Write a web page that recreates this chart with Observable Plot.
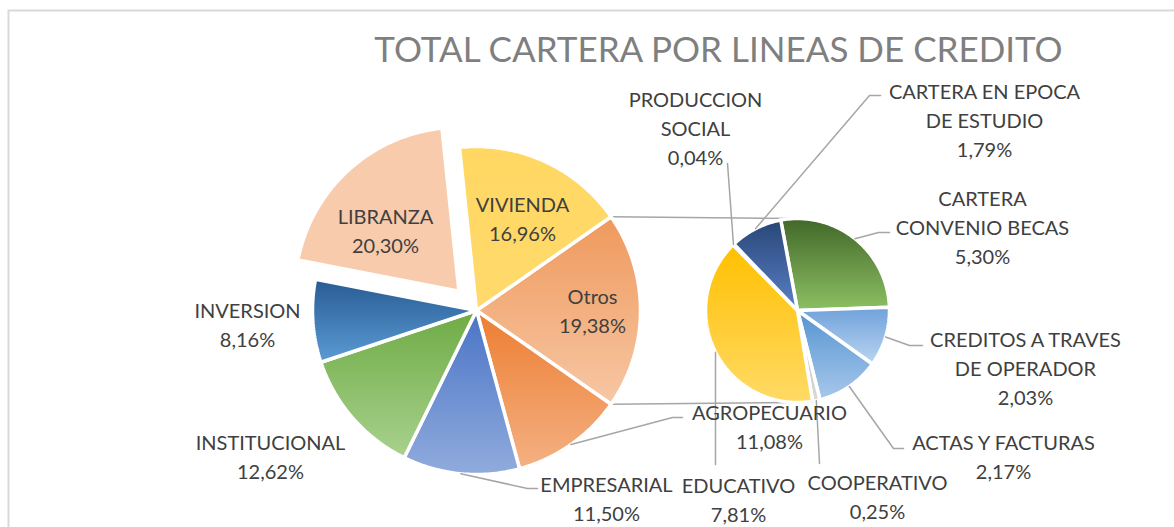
<!DOCTYPE html>
<html>
<head>
<meta charset="utf-8">
<script src="https://cdn.jsdelivr.net/npm/d3@7"></script>
<script src="https://cdn.jsdelivr.net/npm/@observablehq/plot@0.6"></script>
<style>
  body { margin: 0; background: #fff; }
  #chart svg { display: block; }
</style>
</head>
<body>
<div id="chart"></div>
<script>
// ---------------- DATA ----------------
const chartTitle = "TOTAL CARTERA POR LINEAS DE CREDITO";
const mainCategories = ["Otros", "AGROPECUARIO", "EMPRESARIAL", "INSTITUCIONAL", "INVERSION", "LIBRANZA", "VIVIENDA"];
const mainValues = [19.38, 11.08, 11.50, 12.62, 8.16, 20.30, 16.96];
const otrosCategories = ["CARTERA CONVENIO BECAS", "CREDITOS A TRAVES DE OPERADOR", "ACTAS Y FACTURAS", "COOPERATIVO", "EDUCATIVO", "PRODUCCION SOCIAL", "CARTERA EN EPOCA DE ESTUDIO"];
const otrosValues = [5.30, 2.03, 2.17, 0.25, 7.81, 0.04, 1.79];
const aggregateCategory = "Otros";
const explodedCategory = "LIBRANZA";

// ---------------- LAYOUT / STYLE ----------------
const W = 1174, H = 527;
const mainPie = {cx: 476, cy: 310, r: 164, explode: 26};
const subPie = {cx: 797, cy: 310, r: 92, startDeg: -100.5};
const titleLayout = {x: 718, y: 50, size: 35};
const gradients = {
  "Otros": ["#EF995C", "#F7C7A4"],
  "AGROPECUARIO": ["#ED7D31", "#F4B183"],
  "EMPRESARIAL": ["#4A74C6", "#90ABDD"],
  "INSTITUCIONAL": ["#6EAB45", "#A9D18E"],
  "INVERSION": ["#285C93", "#5B9BD5"],
  "LIBRANZA": ["#F8CBAD", "#F8CBAD"],
  "VIVIENDA": ["#FFD762", "#FFDA6C"],
  "CARTERA CONVENIO BECAS": ["#426829", "#8CC063"],
  "CREDITOS A TRAVES DE OPERADOR": ["#6FA1DA", "#BAD5F1"],
  "ACTAS Y FACTURAS": ["#5594D2", "#A7C8EA"],
  "COOPERATIVO": ["#B4B4B4", "#DADADA"],
  "EDUCATIVO": ["#FFC000", "#FFDA66"],
  "PRODUCCION SOCIAL": ["#7F7F7F", "#A5A5A5"],
  "CARTERA EN EPOCA DE ESTUDIO": ["#284677", "#5A80C7"]
};
const labelLayout = {
  "Otros": {x: 592, y: 309},
  "AGROPECUARIO": {x: 769, y: 425, leader: [[672, 417], [682, 417]]},
  "EMPRESARIAL": {x: 606, y: 497, leader: [[527, 488], [537, 488]]},
  "INSTITUCIONAL": {x: 270, y: 455},
  "INVERSION": {x: 247, y: 323},
  "LIBRANZA": {x: 385, y: 229},
  "VIVIENDA": {x: 522, y: 217},
  "CARTERA CONVENIO BECAS": {x: 982, y: 225, wrap: [1, 2], leader: [[878, 232], [889, 232]]},
  "CREDITOS A TRAVES DE OPERADOR": {x: 1025, y: 366, wrap: [3, 2], leader: [[909, 345], [922, 345]]},
  "ACTAS Y FACTURAS": {x: 1003, y: 455, leader: [[893, 448], [903, 448]]},
  "COOPERATIVO": {x: 877, y: 495, leader: [[819, 463]]},
  "EDUCATIVO": {x: 738, y: 498, leader: [[715, 464]]},
  "PRODUCCION SOCIAL": {x: 695, y: 126, wrap: [1, 1], leader: [[727, 163]]},
  "CARTERA EN EPOCA DE ESTUDIO": {x: 984, y: 118, wrap: [3, 2], leader: [[869, 95], [880, 95]]}
};

// ---------------- GEOMETRY ----------------
const rad = d => d * Math.PI / 180;
function makeSlices(cats, vals, startDeg, pie) {
  const total = d3.sum(vals);
  let a = startDeg;
  return cats.map((c, i) => {
    const span = 360 * vals[i] / total;
    const s = {cat: c, value: vals[i], a0: a, a1: a + span, cx: pie.cx, cy: pie.cy, r: pie.r};
    a += span;
    return s;
  });
}
const mainTotal = d3.sum(mainValues);
const aggIndex = mainCategories.indexOf(aggregateCategory);
const mainStart = -360 * mainValues[aggIndex] / mainTotal / 2;
const mainSlices = makeSlices(mainCategories, mainValues, mainStart, mainPie);
mainSlices.forEach(s => {
  if (s.cat === explodedCategory) {
    const m = rad((s.a0 + s.a1) / 2);
    s.cx += mainPie.explode * Math.cos(m);
    s.cy += mainPie.explode * Math.sin(m);
  }
});
const subSlices = makeSlices(otrosCategories, otrosValues, subPie.startDeg, subPie);
const allSlices = [...mainSlices, ...subSlices];

function polygon(s) {
  const pts = [{x: s.cx, y: s.cy}];
  const n = Math.max(2, Math.ceil((s.a1 - s.a0) / 1));
  for (let k = 0; k <= n; k++) {
    const a = rad(s.a0 + (s.a1 - s.a0) * k / n);
    pts.push({x: s.cx + s.r * Math.cos(a), y: s.cy + s.r * Math.sin(a)});
  }
  pts.push({x: s.cx, y: s.cy});
  return pts;
}
const edgePoint = (s, deg, r = s.r) => ({x: s.cx + r * Math.cos(rad(deg)), y: s.cy + r * Math.sin(rad(deg))});

// connectors between the aggregate slice and the secondary pie
const agg = mainSlices[aggIndex];
const connectors = [
  {p1: edgePoint(agg, agg.a0), p2: {x: subPie.cx, y: subPie.cy - subPie.r}},
  {p1: edgePoint(agg, agg.a1), p2: {x: subPie.cx, y: subPie.cy + subPie.r}}
];

// leader lines
const leaderRows = [];
allSlices.forEach(s => {
  const L = labelLayout[s.cat];
  if (!L || !L.leader) return;
  const start = edgePoint(s, (s.a0 + s.a1) / 2);
  leaderRows.push({id: s.cat, x: start.x, y: start.y});
  L.leader.forEach(([x, y]) => leaderRows.push({id: s.cat, x, y}));
});

// label texts
const fmt = v => v.toFixed(2).replace(".", ",") + "%";
function wrapName(name, wrap) {
  if (!wrap) return [name];
  const words = name.split(" ");
  const lines = [];
  let i = 0;
  wrap.forEach(n => { lines.push(words.slice(i, i + n).join(" ")); i += n; });
  return lines;
}
const labelRows = allSlices.map(s => {
  const L = labelLayout[s.cat];
  return {x: L.x, y: L.y, text: [...wrapName(s.cat, L.wrap), fmt(s.value)].join("\n")};
});

// ---------------- PLOT ----------------
const sliceMarks = allSlices.map((s, i) =>
  Plot.line(polygon(s), {
    x: "x", y: "y", curve: "linear",
    fill: `url(#grad${i})`, stroke: "white", strokeWidth: 3.5, strokeLinejoin: "miter"
  })
);

const svg = Plot.plot({
  width: W, height: H,
  margin: 0,
  x: {domain: [0, W], range: [0, W], axis: null},
  y: {domain: [0, H], range: [0, H], axis: null},
  style: {background: "transparent", overflow: "visible"},
  marks: [
    Plot.frame({stroke: "#D9D9D9", strokeWidth: 2, insetLeft: 8, insetTop: 10, insetRight: -20, insetBottom: -20}),
    Plot.link(connectors, {
      x1: d => d.p1.x, y1: d => d.p1.y, x2: d => d.p2.x, y2: d => d.p2.y,
      stroke: "#A6A6A6", strokeWidth: 1.5
    }),
    ...sliceMarks,
    Plot.line(leaderRows, {x: "x", y: "y", z: "id", stroke: "#A6A6A6", strokeWidth: 1.5, curve: "linear"}),
    Plot.text(labelRows, {
      x: "x", y: "y", text: "text",
      fontSize: 20, lineHeight: 1.45, fill: "#404040", fontFamily: "Lato"
    }),
    Plot.text([chartTitle], {
      x: [titleLayout.x], y: [titleLayout.y], text: d => d,
      fontSize: titleLayout.size, fontWeight: 400, fill: "#7F7F7F", fontFamily: "Lato"
    })
  ]
});

// gradient definitions (one per slice, top → bottom)
const ns = "http://www.w3.org/2000/svg";
const defs = document.createElementNS(ns, "defs");
allSlices.forEach((s, i) => {
  const g = document.createElementNS(ns, "linearGradient");
  g.setAttribute("id", `grad${i}`);
  g.setAttribute("x1", "0"); g.setAttribute("y1", "0");
  g.setAttribute("x2", "0"); g.setAttribute("y2", "1");
  const [c0, c1] = gradients[s.cat];
  [[0, c0], [1, c1]].forEach(([o, c]) => {
    const st = document.createElementNS(ns, "stop");
    st.setAttribute("offset", o);
    st.setAttribute("stop-color", c);
    g.appendChild(st);
  });
  defs.appendChild(g);
});
svg.insertBefore(defs, svg.firstChild);

document.getElementById("chart").appendChild(svg);
</script>
</body>
</html>
